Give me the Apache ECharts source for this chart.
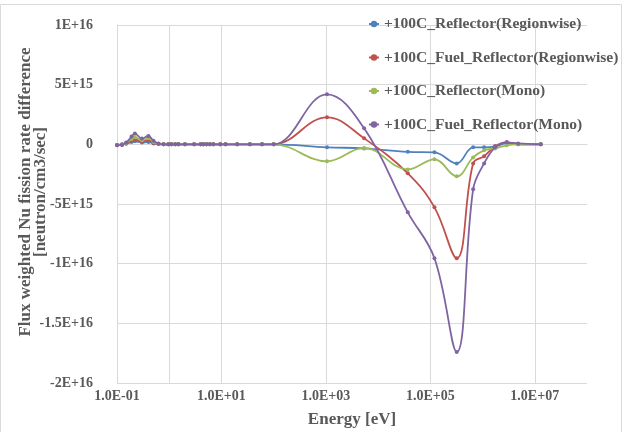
<!DOCTYPE html>
<html>
<head>
<meta charset="utf-8">
<script src="https://cdn.jsdelivr.net/npm/echarts@6/dist/echarts.min.js"></script>
<style>
  html, body { margin: 0; padding: 0; background: #fff; }
  #chart { width: 622px; height: 432px; }
</style>
</head>
<body>
<div id="chart"></div>
<script>
// energy groups [eV]
const energy = [
  0.1, 0.125, 0.15, 0.19, 0.22, 0.3, 0.4, 0.5, 0.625, 0.78, 0.96, 1.1, 1.3, 1.5,
  2, 3, 4, 4.5, 5.2, 6, 7, 9.5, 12, 20, 35, 60,
  100, 1050, 5400, 37000, 120000, 320000, 660000, 1.07e6, 1.74e6, 2.9e6, 4.8e6, 1.3e7
];

const seriesNames = [
  '+100C_Reflector(Regionwise)',
  '+100C_Fuel_Reflector(Regionwise)',
  '+100C_Reflector(Mono)',
  '+100C_Fuel_Reflector(Mono)'
];

const reflRegion = [
  -0.05e15, 0, 0.05e15, 0.2e15, 0.25e15, 0.15e15, 0.2e15, 0.08e15, 0.02e15, 0, 0, 0, 0, 0,
  0, 0, 0, 0, 0, 0, 0, 0, 0, 0, 0, 0,
  0, -0.25e15, -0.34e15, -0.63e15, -0.67e15, -1.6e15, -0.25e15, -0.25e15, -0.17e15, 0.08e15, 0, 0
];
const fuelReflRegion = [
  -0.06e15, -0.02e15, 0.1e15, 0.3e15, 0.4e15, 0.25e15, 0.33e15, 0.12e15, 0.03e15, 0, 0, 0, 0, 0,
  0, 0, 0, 0, 0, 0, 0, 0, 0, 0, 0, 0,
  0, 2.26e15, 0.5e15, -2.43e15, -5.28e15, -9.55e15, -1.6e15, -1.0e15, -0.17e15, 0.17e15, 0, 0
];
const reflMono = [
  -0.07e15, -0.03e15, 0.12e15, 0.45e15, 0.6e15, 0.35e15, 0.5e15, 0.2e15, 0.05e15, 0, 0, 0, 0, 0,
  0, 0, 0, 0, 0, 0, 0, 0, 0, 0, 0, 0,
  0, -1.42e15, -0.3e15, -2.1e15, -1.26e15, -2.68e15, -1.1e15, -0.5e15, -0.34e15, -0.08e15, 0, 0
];
const fuelReflMono = [
  -0.08e15, -0.05e15, 0.15e15, 0.65e15, 0.9e15, 0.48e15, 0.7e15, 0.3e15, 0.08e15, 0, 0, 0, 0, 0,
  0, 0, 0, 0, 0, 0, 0, 0, 0, 0, 0, 0,
  0, 4.19e15, 1.34e15, -5.7e15, -9.55e15, -17.4e15, -3.77e15, -1.6e15, -0.25e15, 0.17e15, 0.08e15, 0
];

const colors = ['#4F81BD', '#C0504D', '#9BBB59', '#8064A2'];
const gridEnergies = [1, 10, 1e3, 1e5, 1e7];

const font = 'Liberation Serif';
const textColor = '#595959';

const chart = echarts.init(document.getElementById('chart'));

const values = [reflRegion, fuelReflRegion, reflMono, fuelReflMono];
const lineSeries = values.map((vals, i) => ({
  name: seriesNames[i],
  type: 'line',
  data: energy.map((e, k) => [e, vals[k]]),
  smooth: 0.4,
  symbol: 'circle',
  symbolSize: 4,
  itemStyle: { color: colors[i] },
  lineStyle: { color: colors[i], width: 1.8 },
  z: 3 + i
}));

// vertical grid lines (Excel draws them at these decades only)
lineSeries.unshift({
  type: 'line',
  data: [],
  silent: true,
  z: 1,
  markLine: {
    silent: true,
    symbol: 'none',
    z: 1,
    label: { show: false },
    lineStyle: { color: '#d9d9d9', type: 'solid', width: 1 },
    data: gridEnergies.map(e => ({ xAxis: e }))
  }
});

function yFmt(v) {
  if (v === 0) return '0';
  const exp = Math.floor(Math.log10(Math.abs(v)) + 1e-9);
  const mant = Math.round(v / Math.pow(10, exp) * 100) / 100;
  return mant + 'E+' + exp;
}

function xFmt(v) {
  const exp = Math.round(Math.log10(v));
  if (exp % 2 === 0) return '';
  const sign = exp < 0 ? '-' : '+';
  const a = Math.abs(exp);
  return '1.0E' + sign + (a < 10 ? '0' + a : a);
}

chart.setOption({
  animation: false,
  color: colors,
  textStyle: { fontFamily: font },
  graphic: [{
    type: 'rect',
    shape: { x: 0.5, y: 4.5, width: 621, height: 440 },
    style: { fill: 'none', stroke: '#d9d9d9', lineWidth: 1 },
    silent: true
  }],
  grid: { left: 117, right: 35, top: 25, bottom: 49, containLabel: false, outerBoundsMode: 'none' },
  legend: {
    data: seriesNames,
    orient: 'vertical',
    left: 363,
    top: 11,
    z: 20,
    itemWidth: 10,
    itemHeight: 8,
    itemGap: 17.5,
    textStyle: {
      fontFamily: font,
      fontWeight: 'bold',
      fontSize: 15.5,
      lineHeight: 16,
      color: textColor
    }
  },
  xAxis: {
    type: 'log',
    logBase: 10,
    min: 0.1,
    max: 1e8,
    splitNumber: 9,
    name: 'Energy [eV]',
    nameLocation: 'middle',
    nameGap: 28,
    nameMoveOverlap: false,
    nameTextStyle: { fontFamily: font, fontWeight: 'bold', fontSize: 17, color: textColor },
    axisLine: { lineStyle: { color: '#d9d9d9' } },
    axisTick: { show: false },
    splitLine: { show: false },
    axisLabel: {
      formatter: xFmt,
      margin: 6,
      fontFamily: font,
      fontWeight: 'bold',
      fontSize: 14,
      color: textColor,
      showMinLabel: true,
      showMaxLabel: true
    }
  },
  yAxis: {
    type: 'value',
    min: -2e16,
    max: 1e16,
    interval: 5e15,
    name: 'Flux weighted Nu fission rate difference\n[neutron/cm3/sec]',
    nameLocation: 'middle',
    nameRotate: 90,
    nameGap: 69,
    nameMoveOverlap: false,
    nameTextStyle: {
      fontFamily: font, fontWeight: 'bold', fontSize: 17, lineHeight: 15, color: textColor,
      padding: [0, 0, 0, 24]
    },
    axisLine: { show: true, lineStyle: { color: '#d9d9d9' } },
    axisTick: { show: false },
    splitLine: { lineStyle: { color: '#d9d9d9' } },
    axisLabel: {
      formatter: yFmt,
      margin: 24,
      fontFamily: font,
      fontWeight: 'bold',
      fontSize: 14,
      color: textColor
    }
  },
  series: lineSeries
});
</script>
</body>
</html>
